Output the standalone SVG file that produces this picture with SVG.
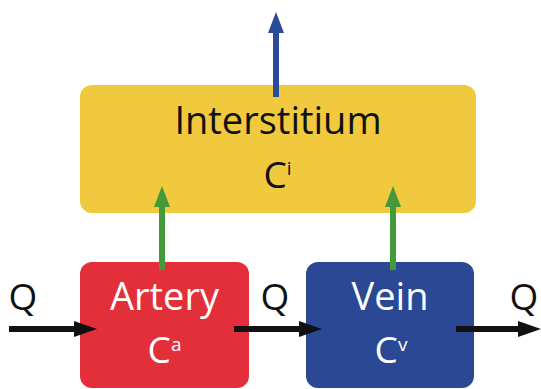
<svg xmlns="http://www.w3.org/2000/svg" width="541" height="389" viewBox="0 0 541 389">
<style>
text{font-family:"Open Sans","Noto Sans",sans-serif;text-anchor:middle}
.lbl{font-size:38px}
.c{font-size:37px}
.q{font-size:37px}
.w{fill:#fff}
.k{fill:#111}
.sup{font-size:19px}
</style>
<rect width="541" height="389" fill="#fff"/>
<g id="interstitium">
<rect x="80" y="85" width="396" height="128" rx="12" fill="#F0C93F"/>
<text class="lbl k" x="278" y="134">Interstitium</text>
<text class="c k" x="277.5" y="188">C<tspan class="sup" dy="-13">i</tspan></text>
</g>
<g id="artery">
<rect x="80" y="262" width="169" height="126" rx="12" fill="#E32F3A"/>
<text class="lbl w" x="164.5" y="310">Artery</text>
<text class="c w" x="164.5" y="363">C<tspan class="sup" dy="-12">a</tspan></text>
</g>
<g id="vein">
<rect x="306" y="262" width="168" height="126" rx="12" fill="#2A4893"/>
<text class="lbl w" x="390" y="310">Vein</text>
<text class="c w" x="391" y="363">C<tspan class="sup" dy="-12">v</tspan></text>
</g>
<g id="connectors">
<path d="M276,97V32" stroke="#2A4A9A" stroke-width="6" fill="none"/>
<path d="M268,33L276,12L284,33z" fill="#2A4A9A"/>
<path d="M162,270V206" stroke="#45993A" stroke-width="6"/>
<path d="M154,207L162,186L170,207z" fill="#45993A"/>
<path d="M393,270V206" stroke="#45993A" stroke-width="6"/>
<path d="M385,207L393,186L401,207z" fill="#45993A"/>
<path d="M9,329H75" stroke="#111" stroke-width="6"/>
<path d="M74,321L97,329L74,337z" fill="#111"/>
<path d="M234,329H300" stroke="#111" stroke-width="6"/>
<path d="M299,321L322,329L299,337z" fill="#111"/>
<path d="M456,329H519" stroke="#111" stroke-width="6"/>
<path d="M518,321L541,329L518,337z" fill="#111"/>
<text class="q k" x="23" y="310">Q</text>
<text class="q k" x="275" y="310">Q</text>
<text class="q k" x="524" y="310">Q</text>
</g>
</svg>
